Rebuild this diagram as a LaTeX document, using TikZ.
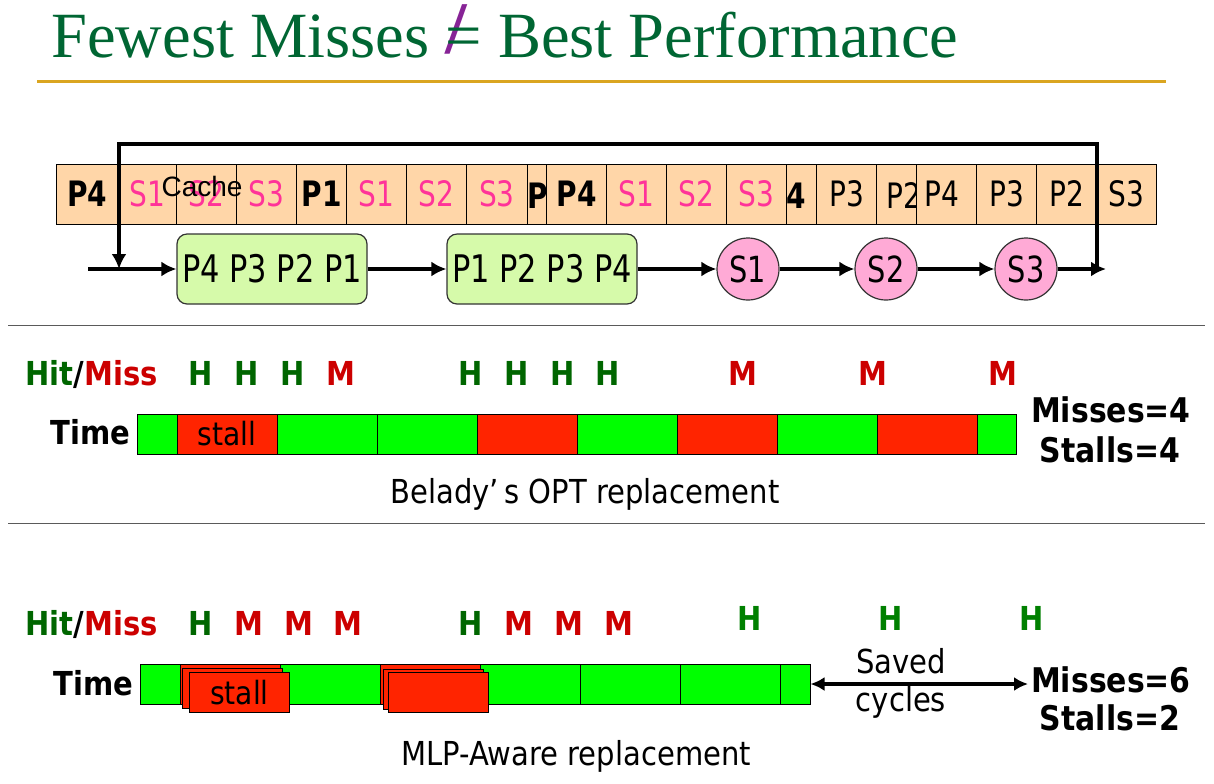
\documentclass[tikz,border=0pt]{standalone}
\usepackage{fontspec}
\setmainfont{Liberation Serif}
\newfontfamily\tah[FakeStretch=0.88]{DejaVu Sans}
\newfontfamily\tahc[FakeStretch=0.8]{DejaVu Sans}
\newfontfamily\arialf{Liberation Sans}
\newfontfamily\titlef{Liberation Serif}
\usetikzlibrary{arrows.meta}
\definecolor{titlegreen}{RGB}{0,102,51}
\definecolor{slashpurple}{RGB}{135,35,150}
\definecolor{goldline}{RGB}{218,165,32}
\definecolor{peach}{RGB}{255,214,168}
\definecolor{pinktxt}{RGB}{255,51,153}
\definecolor{boxgreen}{RGB}{214,250,170}
\definecolor{circpink}{RGB}{255,170,214}
\definecolor{hitgreen}{RGB}{0,102,0}
\definecolor{hitlight}{RGB}{0,128,0}
\definecolor{missred}{RGB}{204,0,0}
\definecolor{gbar}{RGB}{0,255,0}
\definecolor{rbar}{RGB}{255,36,0}
\definecolor{sepgray}{RGB}{90,90,90}
\newcommand\cpink[1]{\textcolor{pinktxt}{#1}}
\newcommand\cbold[1]{\textbf{#1}}
\newcommand\cshift[1]{\hspace{-4.5pt}#1}
\newcommand\neqsym{\rlap{\hspace{0.0em}\raisebox{0.05em}{\textcolor{slashpurple}{\scalebox{1.2}[1.15]{\textbf{/}}}}}=}
\tikzset{
  cbox/.style={draw=black, line width=0.5pt, fill=peach, inner sep=0, minimum height=30pt,
    font=\tahc\fontsize{17.5pt}{20pt}\selectfont},
  clab/.style={inner sep=0, anchor=base west, font=\tahc\fontsize{17.5pt}{20pt}\selectfont},
  gbox/.style={draw=black!80, line width=0.6pt, fill=boxgreen, rounded corners=5pt, inner sep=0,
    minimum width=95pt, minimum height=35pt, font=\tahc\fontsize{19pt}{22pt}\selectfont},
  cnode/.style={draw=black!80, line width=0.6pt, fill=circpink, circle, inner sep=0,
    minimum size=31pt, font=\tahc\fontsize{18pt}{21pt}\selectfont},
  flow/.style={line width=2.2pt, -{Latex[length=7.5pt,width=7.5pt]}},
  seg/.style={draw=black, line width=0.5pt, inner sep=0, minimum height=20pt,
    font=\tah\fontsize{16pt}{19pt}\selectfont},
  hm/.style={inner sep=0, anchor=base, font=\tah\bfseries\fontsize{16.5pt}{19pt}\selectfont},
  big/.style={inner sep=0, anchor=base, font=\tah\bfseries\fontsize{17pt}{20pt}\selectfont},
  txt/.style={inner sep=0, anchor=base, font=\tah\fontsize{16.5pt}{19pt}\selectfont},
  sepline/.style={draw=sepgray, line width=0.5pt},
}
\begin{document}
\begin{tikzpicture}[x=0.5pt,y=-0.5pt]
\useasboundingbox (0,0) rectangle (1214,783);

% ---------------- title ----------------
\node[anchor=base west, inner sep=0, text=titlegreen,
  font=\titlef\fontsize{32.25pt}{38pt}\selectfont] (title) at (51,57)
  {Fewest Misses \neqsym\ Best Performance};
\coordinate (gl) at (37,81.5);
\coordinate (gr) at (1166,81.5);
\draw[goldline, line width=1.5pt] (gl) -- (gr);

% ---------------- cache row ----------------
\foreach \a/\b/\t/\n in {
  56.7/117.7/\cbold{P4}/1, 117.7/176.7/\cpink{S1}/2, 176.7/236.7/\cpink{S2}/3,
  236.7/296.7/\cpink{S3}/4, 296.7/346.7/\cbold{P1}/5, 346.7/406.7/\cpink{S1}/6,
  406.7/466.7/\cpink{S2}/7, 466.7/527/\cpink{S3}/8, 527/546.7//9,
  546.7/606.7/\cbold{P4}/10, 606.7/666.7/\cpink{S1}/11, 666.7/726.7/\cpink{S2}/12,
  726.7/786.7/\cpink{S3}/13, 786.7/816.7//14, 816.7/876.7/P3/15,
  876.7/916.7//16, 916.7/976.7/\cshift{P4}/17, 976.7/1036.7/P3/18,
  1036.7/1096.7/P2/19, 1096.7/1156.7/S3/20}{
  \pgfmathsetmacro\w{(\b-\a)*0.5}
  \node[cbox, minimum width=\w pt] (c\n) at ({(\a+\b)/2},194) {\t};
}
\begin{scope}
  \clip (527,164) rectangle (546.7,224);
  \node[clab] (l9) at (527,208.5) {\cbold{P1}};
\end{scope}
\begin{scope}
  \clip (786.7,164) rectangle (816.7,224);
  \node[clab, anchor=base east] (l14) at (806,208.5) {\cbold{P4}};
\end{scope}
\begin{scope}
  \clip (876.7,164) rectangle (916.7,224);
  \node[clab] (l16) at (886.5,208.5) {P2};
\end{scope}
\node[inner sep=0, anchor=base, font=\arialf\fontsize{14pt}{16pt}\selectfont] (cachelbl) at (202,196.7) {Cache};

% ---------------- flow row ----------------
\node[gbox] (g1) at (272,269) {P4 P3 P2 P1};
\node[gbox] (g2) at (542,269) {P1 P2 P3 P4};
\node[cnode] (s1) at (748,269) {S1};
\node[cnode] (s2) at (886,269) {S2};
\node[cnode] (s3) at (1026,269) {S3};
\coordinate (inL) at (88,269);
\coordinate (lt) at (119,269);
\coordinate (rt) at (1097,269);
\coordinate (outR) at (1106,269);
\coordinate (top) at (1097,144);
\draw[flow] (inL) -- (g1);
\draw[flow] (g1) -- (g2);
\draw[flow] (g2) -- (s1);
\draw[flow] (s1) -- (s2);
\draw[flow] (s2) -- (s3);
\draw[flow] (s3) -- (outR);
\draw[flow] (rt) -- (top) -| (lt);

% ---------------- separators ----------------
\coordinate (sa1) at (8,325);
\coordinate (sa2) at (1205,325);
\coordinate (sb1) at (8,523);
\coordinate (sb2) at (1205,523);
\draw[sepline] (sa1) -- (sa2);
\draw[sepline] (sb1) -- (sb2);

% ---------------- section 1 ----------------
\node[hm, anchor=base west] (hm1) at (25,385)
  {\textcolor{hitgreen}{Hit}/\textcolor{missred}{Miss}};
\foreach \x/\l/\c [count=\i] in {201/H/hitgreen, 246.5/H/hitgreen, 292.5/H/hitgreen, 340.5/M/missred,
  470.5/H/hitgreen, 516.5/H/hitgreen, 562.5/H/hitgreen, 608/H/hitgreen,
  743/M/missred, 873/M/missred, 1003/M/missred}{
  \node[hm, text=\c] (a\i) at (\x,385) {\l};
}
\node[hm, anchor=base east] (time1) at (131,444) {Time};
\foreach \a/\b/\c/\t [count=\i] in {137/177/gbar/, 177/277/rbar/stall, 277/377/gbar/, 377/477/gbar/,
  477/577/rbar/, 577/677/gbar/, 677/777/rbar/, 777/877/gbar/, 877/977/rbar/, 977/1016/gbar/}{
  \pgfmathsetmacro\w{(\b-\a)*0.5}
  \node[seg, fill=\c, minimum width=\w pt] (t\i) at ({(\a+\b)/2},434) {\t};
}
\node[big] (miss1) at (1111,422) {Misses=4};
\node[big] (stall1) at (1110,462) {Stalls=4};
\node[txt] (belady) at (585,503) {Belady’\,s OPT replacement};

% ---------------- section 2 ----------------
\node[hm, anchor=base west] (hm2) at (25,635)
  {\textcolor{hitgreen}{Hit}/\textcolor{missred}{Miss}};
\foreach \x/\l/\c [count=\i] in {200.5/H/hitgreen, 249/M/missred, 299/M/missred, 348/M/missred,
  471/H/hitgreen, 519/M/missred, 569/M/missred, 619/M/missred}{
  \node[hm, text=\c] (b\i) at (\x,635) {\l};
}
\foreach \x [count=\i] in {750, 891, 1032}{
  \node[hm, text=hitlight] (h\i) at (\x,630) {H};
}
\node[hm, anchor=base east] (time2) at (134,695) {Time};
\foreach \a/\b [count=\i] in {140/180, 180/280, 280/380, 380/480, 480/580, 580/680, 680/780, 780/810}{
  \pgfmathsetmacro\w{(\b-\a)*0.5}
  \node[seg, fill=gbar, minimum width=\w pt] (u\i) at ({(\a+\b)/2},684) {};
}
% red stacks
\node[seg, fill=rbar, minimum width=50pt] (ra1) at (230,684) {};
\node[seg, fill=rbar, minimum width=50pt] (ra2) at (232.5,688) {};
\node[seg, fill=rbar, minimum width=50pt] (ra3) at (239.5,692.5) {stall};
\node[seg, fill=rbar, minimum width=50pt] (rb1) at (430,684) {};
\node[seg, fill=rbar, minimum width=50pt] (rb2) at (433,689) {};
\node[seg, fill=rbar, minimum width=50pt] (rb3) at (438.8,692.5) {};
\coordinate (saveR) at (1028,684);
\draw[line width=1.7pt, {Latex[length=7pt,width=7pt]}-{Latex[length=7pt,width=7pt]}] (u8.east) -- (saveR);
\node[txt] (saved) at (901,673) {Saved};
\node[txt] (cycles) at (901,711) {cycles};
\node[big] (miss2) at (1111,692) {Misses=6};
\node[big] (stall2) at (1110,730) {Stalls=2};
\node[txt] (mlp) at (576,765) {MLP-Aware replacement};
\end{tikzpicture}
\end{document}
